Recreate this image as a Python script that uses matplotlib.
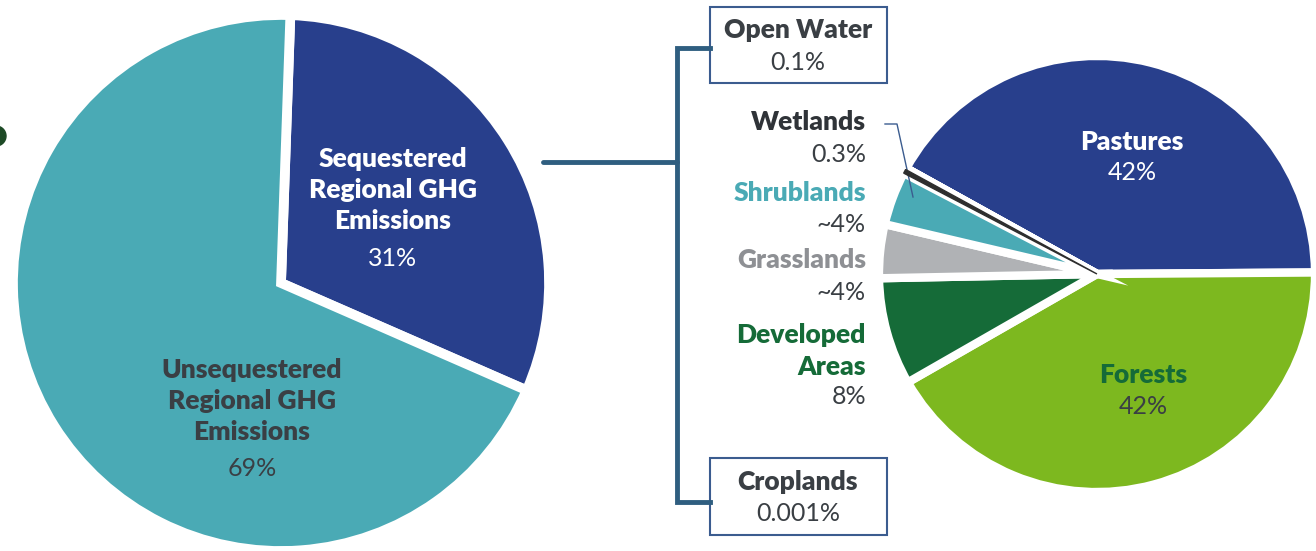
import matplotlib
matplotlib.use('Agg')
import matplotlib.pyplot as plt
from matplotlib.patches import Rectangle

W, H = 1316, 551

# left pie: regional GHG emissions
ghg_labels = ['Sequestered\nRegional GHG\nEmissions', 'Unsequestered\nRegional GHG\nEmissions']
ghg_values = [31, 69]
ghg_pct = ['31%', '69%']
ghg_colors = ['#283F8C', '#4AAAB5']

# right pie: sequestration by land cover
land_labels = ['Pastures', 'Forests', 'Developed\nAreas', 'Grasslands', 'Shrublands',
               'Wetlands', 'Open Water', 'Croplands']
land_values = [42, 42, 8, 4, 4, 0.3, 0.1, 0.001]
land_pct = ['42%', '42%', '8%', '~4%', '~4%', '0.3%', '0.1%', '0.001%']
land_colors = ['#283F8C', '#7DB81F', '#156B38', '#B0B2B5', '#4AAAB5', '#2E2E2E', '#283F8C', '#7DB81F']
land_explode = [0.035, 0.035, 0.015, 0.015, 0.015, 0.03, 0.03, 0.03]

BOLD = dict(family='Lato', fontweight='heavy', fontsize=19)
LIGHT = dict(family='Lato', fontweight='normal', fontsize=18)
LINE = '#2F5E80'
TXT = '#3A3F44'


def Y(y):
    # image-style y (from top) -> data y
    return H - y


fig = plt.figure(figsize=(W / 100, H / 100), dpi=100)
ax = fig.add_axes([0, 0, 1, 1])

# left pie
w1, _ = ax.pie(ghg_values, colors=ghg_colors, startangle=88, counterclock=False,
               explode=[0.035, 0], center=(281, Y(283)), radius=268,
               wedgeprops=dict(edgecolor='white', linewidth=7))

# right pie
w2, _ = ax.pie(land_values, colors=land_colors, startangle=151, counterclock=False,
               explode=land_explode, center=(1097, Y(274)), radius=218,
               wedgeprops=dict(edgecolor='white', linewidth=6))
w2[5].set_edgecolor(land_colors[5])
w2[5].set_linewidth(1)
w2[5].set_zorder(3)
for w in w2[6:]:
    w.set_facecolor('white')

ax.set_xlim(0, W)
ax.set_ylim(0, H)
ax.set_aspect('equal')
ax.axis('off')

# small cut-off mark on the far left edge
ax.add_patch(plt.Circle((-4, Y(136)), 10, color='#1D4A26', clip_on=True))

# left pie labels
ax.text(393, Y(190), ghg_labels[0], color='white', ha='center', va='center',
        linespacing=1.37, **BOLD)
ax.text(393, Y(258), ghg_pct[0], color='white', ha='center', va='center', **LIGHT)
ax.text(252, Y(401), ghg_labels[1], color=TXT, ha='center', va='center',
        linespacing=1.37, **BOLD)
ax.text(252, Y(469), ghg_pct[1], color=TXT, ha='center', va='center', **LIGHT)

# bracket
ax.plot([543, 677], [Y(162), Y(162)], color=LINE, lw=3.5, solid_capstyle='round')
ax.plot([710, 677, 677, 710], [Y(48), Y(48), Y(502), Y(502)], color=LINE, lw=3.5,
        solid_joinstyle='miter')

# boxes for open water and croplands
for (x0, y0, y1), i in [((710, 7, 83), 6), ((710, 458, 535), 7)]:
    ax.add_patch(Rectangle((x0, Y(y1)), 177, y1 - y0, fill=False, ec='#3B5C8F', lw=1.5))
    ax.text(x0 + 88, Y((y0 + y1) / 2 - 15), land_labels[i], color=TXT,
            ha='center', va='center', **BOLD)
    ax.text(x0 + 88, Y((y0 + y1) / 2 + 17), land_pct[i], color=TXT,
            ha='center', va='center', **LIGHT)

# left side labels of small slices
side = [(5, 122, '#2F3338'), (4, 193, '#4AAAB5'), (3, 260, '#8E9094')]
for i, y, c in side:
    ax.text(866, Y(y), land_labels[i], color=c, ha='right', va='center', **BOLD)
    ax.text(866, Y(y + 32), land_pct[i], color=TXT, ha='right', va='center', **LIGHT)
ax.text(866, Y(351), land_labels[2], color='#156B38', ha='right', va='center',
        linespacing=1.37, **BOLD)
ax.text(866, Y(397), land_pct[2], color=TXT, ha='right', va='center', **LIGHT)

# wetlands leader
ax.plot([885, 897, 913], [Y(124), Y(124), Y(197)], color='#3B5C8F', lw=1)

# big slices labels
ax.text(1132, Y(142), land_labels[0], color='white', ha='center', va='center', **BOLD)
ax.text(1132, Y(173), land_pct[0], color='white', ha='center', va='center', **LIGHT)
ax.text(1143, Y(375), land_labels[1], color='#156B38', ha='center', va='center', **BOLD)
ax.text(1143, Y(407), land_pct[1], color=TXT, ha='center', va='center', **LIGHT)

fig.savefig('out.png', dpi=100)
